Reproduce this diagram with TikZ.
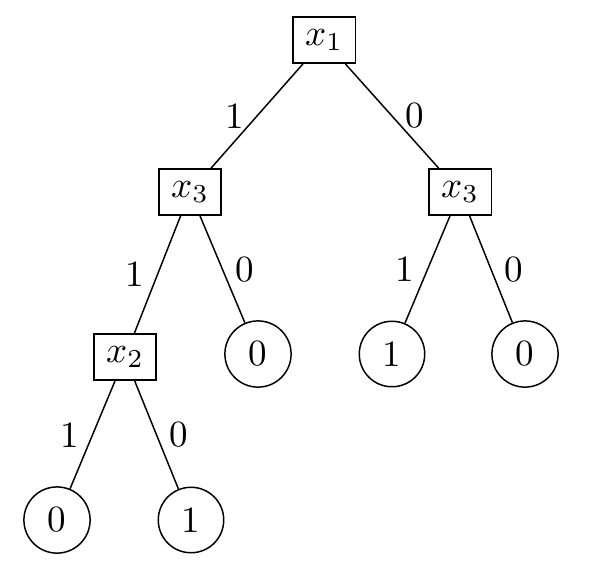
\documentclass[tikz,border=0pt]{standalone}
\usetikzlibrary{positioning}
\begin{document}
\begin{tikzpicture}[
    x=0.27pt,y=-0.27pt,
    var/.style={draw,rectangle},
    leaf/.style={draw,circle}
    ]
    \useasboundingbox (0,0) rectangle (596,570);

    \node[var] (var1) at (324,40) {$x_1$};
    \node[var] (var3l) at (190,192) {$x_3$};
    \node[var] (var3r) at (460,192) {$x_3$};
    \node[var] (var2) at (125,357) {$x_2$};

    \node[leaf] (leaf1) at (258,354) {0};
    \node[leaf] (leaf2) at (392,354) {1};
    \node[leaf] (leaf3) at (525,354) {0};
    \node[leaf] (leaf4) at (57,520) {0};
    \node[leaf] (leaf5) at (191,520) {1};

    \draw (var1) -- node[left] {1} (var3l);
    \draw (var1) -- node[right] {0} (var3r);
    \draw (var3l) -- node[left] {1} (var2);
    \draw (var3l) -- node[right] {0} (leaf1);
    \draw (var3r) -- node[left] {1} (leaf2);
    \draw (var3r) -- node[right] {0} (leaf3);
    \draw (var2) -- node[left] {1} (leaf4);
    \draw (var2) -- node[right] {0} (leaf5);
\end{tikzpicture}
\end{document}
